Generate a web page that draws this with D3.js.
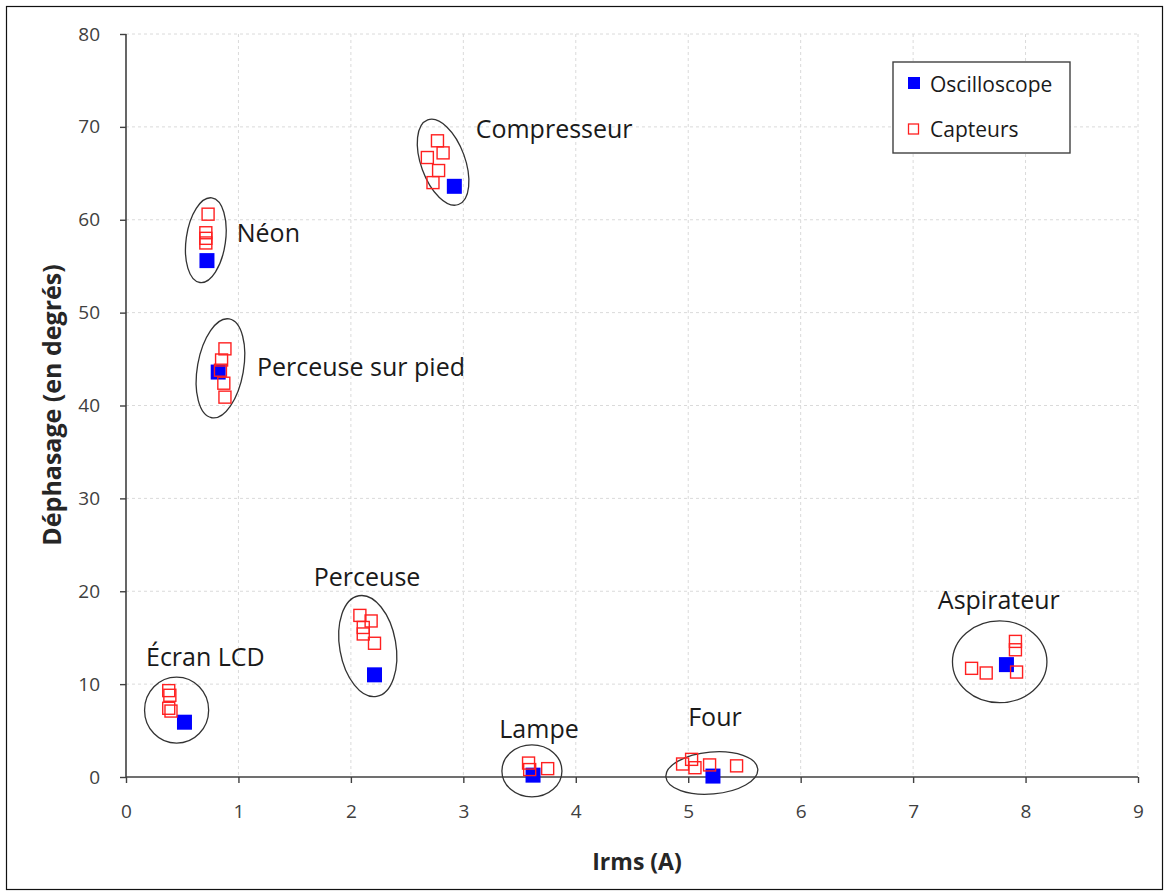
<!DOCTYPE html>
<html><head><meta charset="utf-8">
<script src="https://cdn.jsdelivr.net/npm/d3@7"></script>
<style>
body{margin:0;background:#fff;}
text{font-family:"Open Sans",sans-serif;}
</style></head>
<body>
<svg id="chart" width="1169" height="894"></svg>
<script>
// Data (Irms in A, phase shift in degrees)
const oscilloscope = [
  {x:0.72, y:55.6}, // Néon
  {x:0.82, y:43.6}, // Perceuse sur pied
  {x:2.92, y:63.6}, // Compresseur
  {x:0.52, y:5.9},  // Écran LCD
  {x:2.21, y:11.0}, // Perceuse
  {x:3.62, y:0.2},  // Lampe
  {x:5.22, y:0.1},  // Four
  {x:7.83, y:12.1}  // Aspirateur
];
const capteurs = [
  {x:0.73, y:60.6},{x:0.71, y:58.6},{x:0.71, y:58.0},{x:0.71, y:57.5},
  {x:0.88, y:46.1},{x:0.85, y:44.9},{x:0.84, y:43.8},{x:0.87, y:42.4},{x:0.88, y:40.9},
  {x:2.77, y:68.5},{x:2.82, y:67.2},{x:2.68, y:66.7},{x:2.78, y:65.3},{x:2.73, y:64.0},
  {x:0.38, y:9.3},{x:0.39, y:8.8},{x:0.38, y:7.4},{x:0.40, y:7.1},
  {x:2.08, y:17.4},{x:2.18, y:16.8},{x:2.11, y:16.1},{x:2.11, y:15.4},{x:2.21, y:14.4},
  {x:3.58, y:1.5},{x:3.59, y:0.8},{x:3.75, y:0.9},
  {x:4.95, y:1.4},{x:5.03, y:1.9},{x:5.06, y:1.0},{x:5.19, y:1.3},{x:5.43, y:1.2},
  {x:7.91, y:14.6},{x:7.91, y:13.7},{x:7.52, y:11.7},{x:7.65, y:11.2},{x:7.92, y:11.3}
];
const groupNames = ["Néon","Perceuse sur pied","Compresseur","Écran LCD","Perceuse","Lampe","Four","Aspirateur"];
// Ellipses around groups (centre and radii in data units, tilt in degrees)
const ellipseCx = [0.71, 0.84, 2.82, 0.45, 2.15, 3.61, 5.21, 7.77];
const ellipseCy = [57.8, 44.0, 66.2, 7.2, 14.1, 0.65, 0.43, 12.4];
const ellipseRx = [0.175, 0.205, 0.196, 0.285, 0.25, 0.267, 0.41, 0.42];
const ellipseRy = [4.6, 5.4, 4.85, 3.55, 5.5, 2.8, 2.26, 4.4];
const ellipseTilt = [8, 10, -20, 0, -10, 0, -5, 0];
// Label anchor positions (data units)
const labelX = [0.985, 1.165, 3.11, 0.178, 1.67, 3.32, 5.0, 7.22];
const labelY = [57.65, 43.2, 68.85, 12.0, 20.6, 4.25, 5.45, 18.05];
const xTicks = [0,1,2,3,4,5,6,7,8,9];
const yTicks = [0,10,20,30,40,50,60,70,80];
const seriesNames = ["Oscilloscope","Capteurs"];

const svg = d3.select("#chart");
const margin = {left:126, right:31, top:34, bottom:117};
const W = 1169, H = 894;
const x = d3.scaleLinear().domain([0,9]).range([margin.left, W-margin.right]);
const y = d3.scaleLinear().domain([0,80]).range([H-margin.bottom, margin.top]);

// outer border
svg.append("rect").attr("x",6.5).attr("y",6.5).attr("width",W-13).attr("height",H-11)
  .attr("fill","#fff").attr("stroke","#111").attr("stroke-width",1.2);

// grid
const grid = svg.append("g");
grid.selectAll("line.gx").data(xTicks.slice(1)).join("line")
  .attr("x1",d=>x(d)).attr("x2",d=>x(d)).attr("y1",y(80)).attr("y2",y(0))
  .attr("stroke","#dadada").attr("stroke-dasharray","3,3").attr("stroke-width",1);
grid.selectAll("line.gy").data(yTicks.slice(1)).join("line")
  .attr("y1",d=>y(d)).attr("y2",d=>y(d)).attr("x1",x(0)).attr("x2",x(9))
  .attr("stroke","#dadada").attr("stroke-dasharray","3,3").attr("stroke-width",1);

// axes
const xAxis = svg.append("g").attr("transform",`translate(0,${y(0)})`)
  .call(d3.axisBottom(x).tickValues(xTicks).tickSize(6).tickPadding(22).tickFormat(d3.format("d")));
const yAxis = svg.append("g").attr("transform",`translate(${x(0)},0)`)
  .call(d3.axisLeft(y).tickValues(yTicks).tickSize(6).tickPadding(20).tickFormat(d3.format("d")));
[xAxis,yAxis].forEach(a=>{
  a.select(".domain").attr("stroke","#404040").attr("stroke-width",1.6);
  a.selectAll(".tick line").attr("stroke","#404040").attr("stroke-width",1.4);
  a.selectAll(".tick text").attr("font-size",19).attr("fill","#404040").style("font-family","Open Sans");
});
xAxis.select(".domain").attr("d",`M${x(0)},0H${x(9)}`);
yAxis.select(".domain").attr("d",`M0,${y(80)}V${y(0)}`);

// axis titles
svg.append("text").attr("x",637).attr("y",870).attr("text-anchor","middle")
  .attr("font-size",23).attr("font-weight","bold").attr("fill","#262626").text("Irms (A)");
svg.append("text").attr("transform",`translate(61,${405}) rotate(-90)`).attr("text-anchor","middle")
  .attr("font-size",25).attr("font-weight","bold").attr("fill","#262626").text("Déphasage (en degrés)");

// ellipses
const kx = x(1)-x(0), ky = y(0)-y(1);
svg.append("g").selectAll("ellipse").data(groupNames).join("ellipse")
  .attr("transform",(d,i)=>`translate(${x(ellipseCx[i])},${y(ellipseCy[i])}) rotate(${ellipseTilt[i]})`)
  .attr("rx",(d,i)=>ellipseRx[i]*kx).attr("ry",(d,i)=>ellipseRy[i]*ky)
  .attr("fill","none").attr("stroke","#333").attr("stroke-width",1.3);

// labels
svg.append("g").selectAll("text").data(groupNames).join("text")
  .attr("x",(d,i)=>x(labelX[i])).attr("y",(d,i)=>y(labelY[i]))
  .attr("font-size",25).attr("fill","#1a1a1a").text(d=>d);

// oscilloscope points
const s1 = 15, s2 = 12;
svg.append("g").selectAll("rect").data(oscilloscope).join("rect")
  .attr("x",d=>x(d.x)-s1/2).attr("y",d=>y(d.y)-s1/2).attr("width",s1).attr("height",s1)
  .attr("fill","#0000ff");
// capteurs points
svg.append("g").selectAll("rect").data(capteurs).join("rect")
  .attr("x",d=>x(d.x)-s2/2).attr("y",d=>y(d.y)-s2/2).attr("width",s2).attr("height",s2)
  .attr("fill","none").attr("stroke","#ff2020").attr("stroke-width",1.4);

// legend
const lg = svg.append("g").attr("transform","translate(893,62)");
lg.append("rect").attr("width",177).attr("height",91).attr("fill","#fff")
  .attr("stroke","#404040").attr("stroke-width",1.4);
lg.append("rect").attr("x",15).attr("y",15).attr("width",12).attr("height",12).attr("fill","#0000ff");
lg.append("rect").attr("x",15.5).attr("y",62).attr("width",10).attr("height",10)
  .attr("fill","none").attr("stroke","#ff2020").attr("stroke-width",1.3);
lg.selectAll("text").data(seriesNames).join("text")
  .attr("x",37).attr("y",(d,i)=>30+i*45).attr("font-size",21).attr("fill","#1a1a1a").text(d=>d);
</script>
</body></html>
